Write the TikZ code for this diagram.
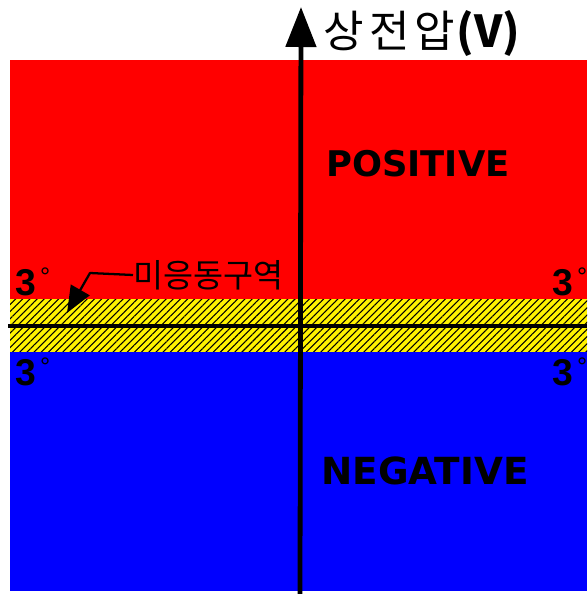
\documentclass[tikz,border=0pt]{standalone}
\usepackage{fontspec}
\setmainfont{Liberation Sans}
\newfontfamily\krfont{Noto Sans CJK KR}
\newfontfamily\widefont{DejaVu Sans}
\usetikzlibrary{arrows.meta,patterns.meta}
\newcommand\degsign{\hspace{3pt}\raisebox{7pt}{\fontsize{19}{19}\selectfont\mdseries °}}
\begin{document}
\begin{tikzpicture}[x=0.75pt, y=-0.75pt, line join=round, >=stealth,
    angle/.style={font=\fontsize{28}{28}\selectfont\bfseries, inner sep=0pt},
    zoneword/.style={font=\widefont\bfseries, inner sep=0pt}]
    \useasboundingbox (0,0) rectangle (587,594);
    \path
    (10,60) coordinate (TL)
    (587,299) coordinate (R1)
    (10,299) coordinate (Y0)
    (587,352) coordinate (Y1)
    (10,352) coordinate (B0)
    (587,591) coordinate (BR)
    (8,326) coordinate (H0)
    (587,326) coordinate (H1)
    (300,594) coordinate (V0)
    (301,7) coordinate (V1)
    (90,273) coordinate (K)
    (67,313) coordinate (KT)
    ;
    \fill[red] (TL) rectangle (R1);
    \fill[yellow] (Y0) rectangle (Y1);
    \fill[pattern={Lines[angle=45,distance=3.8pt,line width=0.8pt]}] (Y0) rectangle (Y1);
    \fill[blue] (B0) rectangle (BR);
    
    % axes
    \draw[line width=2.3pt] (H0) -- (H1);
    \draw[line width=3.6pt, -{Triangle[length=30pt,width=22.5pt]}] (V0) -- (V1);
    
    \node[anchor=west, inner sep=0pt, font=\fontsize{33}{33}\selectfont] (title) at (323,34)
        {\krfont 상\hspace{4pt}전\hspace{4pt}압\hspace{1pt}\bfseries(V)};
    \node[zoneword, font=\widefont\bfseries\fontsize{26.5}{26.5}\selectfont] (pos) at (418,164) {POSITIVE};
    \node[zoneword, font=\widefont\bfseries\fontsize{28}{28}\selectfont] (neg) at (425,471) {NEGATIVE};
    
    \foreach \i/\x/\y in {a/15/295, b/552/295, c/15/385, d/552/385}{
        \node[angle, anchor=base west] (deg\i) at (\x,\y) {3\degsign};
    }
    
    \node[anchor=west, inner sep=0pt, font=\krfont\fontsize{24.5}{24.5}\selectfont] (dead) at (133,275) {미응동구역};
    \draw[line width=1.7pt, -{Triangle[length=20pt,width=16pt]}] (dead.west) -- (K) -- (KT);
\end{tikzpicture}
\end{document}
